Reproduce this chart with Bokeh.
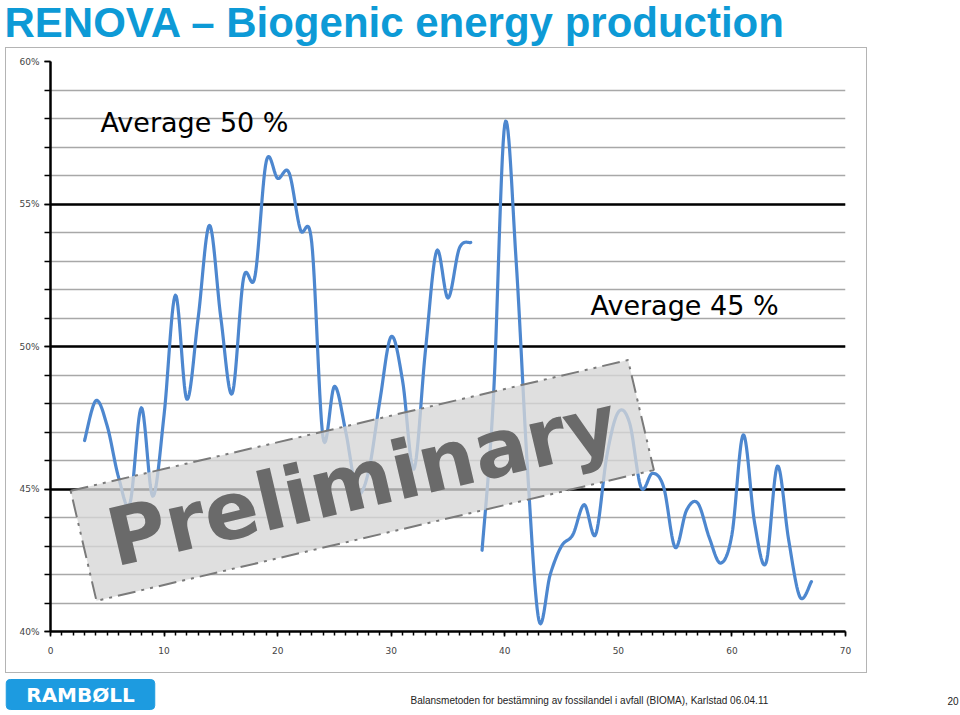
import numpy as np
from bokeh.plotting import figure
from bokeh.layouts import column
from bokeh.models import Range1d, FixedTicker, Label
from bokeh.embed import file_html
from bokeh.resources import INLINE

# ---------------- data ----------------
seg1_x = list(range(3, 38))
seg1_y = [46.7, 48.1, 47.2, 45.4, 44.5, 47.85, 44.75, 47.6, 51.8, 48.15,
          51.0, 54.25, 51.0, 48.35, 52.4, 52.45, 56.5, 55.9, 56.1, 54.1,
          53.65, 46.8, 48.6, 47.0, 44.9, 45.6, 48.1, 50.35, 48.8, 45.7,
          49.8, 53.35, 51.7, 53.45, 53.65]
seg2_x = list(range(38, 68))
seg2_y = [42.85, 48.2, 57.8, 53.0, 45.7, 40.4, 42.0, 43.0, 43.4, 44.45,
          43.4, 46.2, 47.7, 47.3, 45.05, 45.55, 45.05, 42.95, 44.25, 44.5,
          43.3, 42.4, 43.4, 46.9, 43.8, 42.4, 45.8, 43.2, 41.2, 41.75]

x_ticks = [0, 10, 20, 30, 40, 50, 60, 70]
y_ticks = [40, 45, 50, 55, 60]
y_tick_labels = ["40%", "45%", "50%", "55%", "60%"]

title_text = "RENOVA \u2013 Biogenic energy production"
avg1_text = "Average 50 %"
avg2_text = "Average 45 %"
stamp_text = "Preliminary"
footer_text = "Balansmetoden for bestämning av fossilandel i avfall (BIOMA), Karlstad 06.04.11"
page_no = "20"
logo_text = "RAMBØLL"


def smooth_path(xs, ys, n=14):
    """Render a smoothed (Bezier / Catmull-Rom) path through the data points."""
    pts = list(zip(xs, ys))
    ox, oy = [], []
    m = len(pts)
    for i in range(m - 1):
        p0 = pts[i - 1] if i > 0 else pts[i]
        p1 = pts[i]
        p2 = pts[i + 1]
        p3 = pts[i + 2] if i + 2 < m else pts[i + 1]
        c1 = (p1[0] + (p2[0] - p0[0]) / 6.0, p1[1] + (p2[1] - p0[1]) / 6.0)
        c2 = (p2[0] - (p3[0] - p1[0]) / 6.0, p2[1] - (p3[1] - p1[1]) / 6.0)
        ts = np.linspace(0, 1, n, endpoint=(i == m - 2))
        for t in ts:
            a = (1 - t) ** 3
            b = 3 * (1 - t) ** 2 * t
            c = 3 * (1 - t) * t ** 2
            d = t ** 3
            ox.append(a * p1[0] + b * c1[0] + c * c2[0] + d * p2[0])
            oy.append(a * p1[1] + b * c1[1] + c * c2[1] + d * p2[1])
    return ox, oy


def blank_fig(w, h):
    """A figure without axes whose data units equal page pixels (y downwards)."""
    f = figure(width=w, height=h, output_backend="svg", toolbar_location=None,
               title=None, x_range=Range1d(0, w), y_range=Range1d(h, 0),
               x_axis_location=None, y_axis_location=None,
               min_border=0, min_border_left=0, min_border_right=0,
               min_border_top=0, min_border_bottom=0)
    f.outline_line_color = None
    f.grid.visible = False
    f.background_fill_color = "white"
    f.border_fill_color = "white"
    return f


# ---------------- title strip ----------------
top = blank_fig(960, 47)
top.add_layout(Label(x=4, y=21.5, text=title_text, text_font="Liberation Sans",
                     text_font_style="bold", text_font_size="42px", text_color="#0d9ad6",
                     text_baseline="alphabetic"))

# ---------------- main chart ----------------
p = figure(width=860, height=624, output_backend="svg", toolbar_location=None,
           title=None, x_range=Range1d(0, 70), y_range=Range1d(40, 60),
           min_border_left=44, min_border_right=21,
           min_border_top=13, min_border_bottom=41)
p.outline_line_color = None
p.background_fill_color = "white"
p.border_fill_color = "white"

xt = FixedTicker(ticks=x_ticks, minor_ticks=list(range(0, 71)))
yt = FixedTicker(ticks=y_ticks, minor_ticks=list(range(40, 61)))
p.xaxis.ticker = xt
p.yaxis.ticker = yt
p.yaxis.major_label_overrides = {t: l for t, l in zip(y_ticks, y_tick_labels)}
for ax in (p.xaxis[0], p.yaxis[0]):
    ax.axis_line_color = "black"
    ax.axis_line_width = 2.5
    ax.major_tick_line_color = "black"
    ax.minor_tick_line_color = "black"
    ax.major_tick_line_width = 1.5
    ax.minor_tick_line_width = 1.5
    ax.major_tick_in = 0
    ax.minor_tick_in = 0
    ax.major_label_text_font = "DejaVu Sans"
    ax.major_label_text_font_size = "9px"
    ax.major_label_text_color = "#444444"
p.xaxis.major_tick_out = 5
p.xaxis.minor_tick_out = 4
p.xaxis.major_label_standoff = 10
p.yaxis.major_tick_out = 6
p.yaxis.minor_tick_out = 6
p.yaxis.major_label_standoff = 5

p.xgrid.grid_line_color = None
p.ygrid.ticker = yt
p.ygrid.grid_line_color = "black"
p.ygrid.grid_line_width = 2.5
p.ygrid.minor_grid_line_color = "#a8a8a8"
p.ygrid.minor_grid_line_width = 1.5

sx1, sy1 = smooth_path(seg1_x, seg1_y)
sx2, sy2 = smooth_path(seg2_x, seg2_y)
p.line(sx1, sy1, line_color="#4d87cf", line_width=3.2, line_join="round", line_cap="round")
p.line(sx2, sy2, line_color="#4d87cf", line_width=3.2, line_join="round", line_cap="round")

p.add_layout(Label(x=4.4, y=57.87, text=avg1_text, text_font="DejaVu Sans",
                   text_font_size="27px", text_color="black", text_baseline="alphabetic"))
p.add_layout(Label(x=47.55, y=51.45, text=avg2_text, text_font="DejaVu Sans",
                   text_font_size="27px", text_color="black", text_baseline="alphabetic"))

p.add_layout(Label(x=27.45, y=45.3, text=stamp_text, text_font="DejaVu Sans",
                   text_font_style="bold", text_font_size="80px", text_color="#6a6a6a",
                   text_align="center", text_baseline="middle",
                   angle=13.2, angle_units="deg",
                   background_fill_color="#d6d6d6", background_fill_alpha=0.78,
                   border_line_color="#7a7a7a", border_line_width=2,
                   border_line_dash="18 6 3 6 3 6",
                   padding=dict(left=26, right=26, top=10, bottom=10)))

boxed = column(p, margin=(0, 0, 0, 5),
               styles={"border": "1px solid #b4b4b4"})

# ---------------- footer strip ----------------
bot = blank_fig(960, 42)   # page y 673..715 -> data y 0..42
bot.add_layout(Label(x=80, y=21, text=logo_text, text_font="DejaVu Sans",
                     text_font_style="bold", text_font_size="20px", text_color="white",
                     text_align="center", text_baseline="middle",
                     background_fill_color="#1d9be0", border_line_color="#1d9be0",
                     border_radius=4,
                     padding=dict(left=20, right=20, top=3, bottom=3)))
bot.add_layout(Label(x=410, y=27, text=footer_text, text_font="Liberation Sans",
                     text_font_size="10px", text_color="#222222", text_baseline="middle"))
bot.add_layout(Label(x=958, y=27, text=page_no, text_font="Liberation Sans",
                     text_font_size="10px", text_color="#222222", text_baseline="middle",
                     text_align="right"))

layout = column(top, boxed, bot)
open("out.html", "w").write(file_html(layout, INLINE))
